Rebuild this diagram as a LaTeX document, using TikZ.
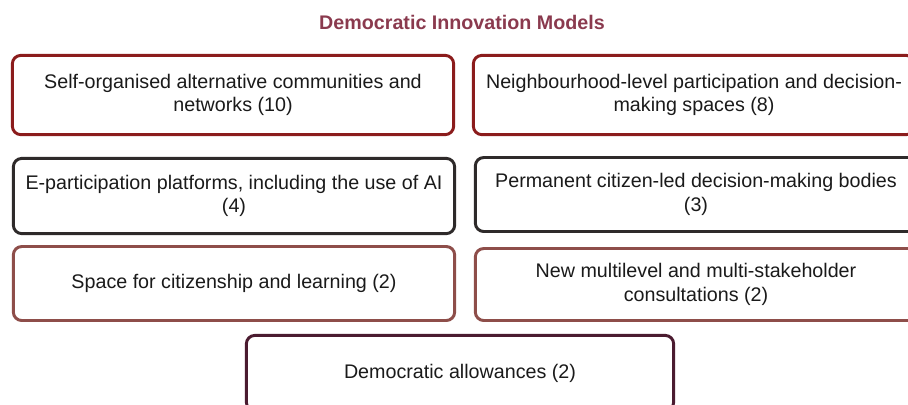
\documentclass[tikz,border=0pt]{standalone}
\usepackage{fontspec}
\setmainfont{Liberation Sans}
\definecolor{titlered}{HTML}{8A3A4E}
\definecolor{darkred}{HTML}{8B1C1C}
\definecolor{darkgrey}{HTML}{2E2A2A}
\definecolor{rosebrown}{HTML}{8E4E4A}
\definecolor{plum}{HTML}{4B1B30}
\definecolor{inkgrey}{HTML}{1A1A1A}
\tikzset{
    %Define standard text font
    every node/.style={font=\fontsize{14}{16.6}\selectfont},
}

\begin{document}
\begin{tikzpicture}[x=0.025cm, y=-0.025cm,
    model/.style = {draw=#1, line width=2.1pt, rounded corners=6pt,
                    fill=white, text=inkgrey, align=center, inner sep=0pt,
                    minimum width=11.03cm, minimum height=1.88cm},
    heading/.style = {font=\fontsize{14}{16.6}\selectfont\bfseries,
                      text=titlered},
  ]
  \useasboundingbox (0,0) rectangle (908,404);
  \node[heading] (title) at (462,22) {Democratic Innovation Models};

  \node[model=darkred, minimum height=1.98cm] (selforg) at (233,95)
    {Self-organised alternative communities and\\networks (10)};
  \node[model=darkred, minimum height=1.98cm] (neighbour) at (694,95)
    {Neighbourhood-level participation and decision-\\making spaces (8)};

  \node[model=darkgrey] (eparticip) at (234,196)
    {E-participation platforms, including the use of AI\\(4)};
  \node[model=darkgrey, minimum height=1.85cm] (permanent) at (696,194.5)
    {Permanent citizen-led decision-making bodies\\(3)};

  \node[model=rosebrown, minimum height=1.85cm] (citizenship) at (234,283.5)
    {Space for citizenship and learning (2)};
  \node[model=rosebrown, minimum height=1.8cm] (multilevel) at (696,284.5)
    {New multilevel and multi-stakeholder\\consultations (2)};

  \node[model=plum, minimum width=10.68cm] (allowances) at (460,373)
    {Democratic allowances (2)};
\end{tikzpicture}
\end{document}
